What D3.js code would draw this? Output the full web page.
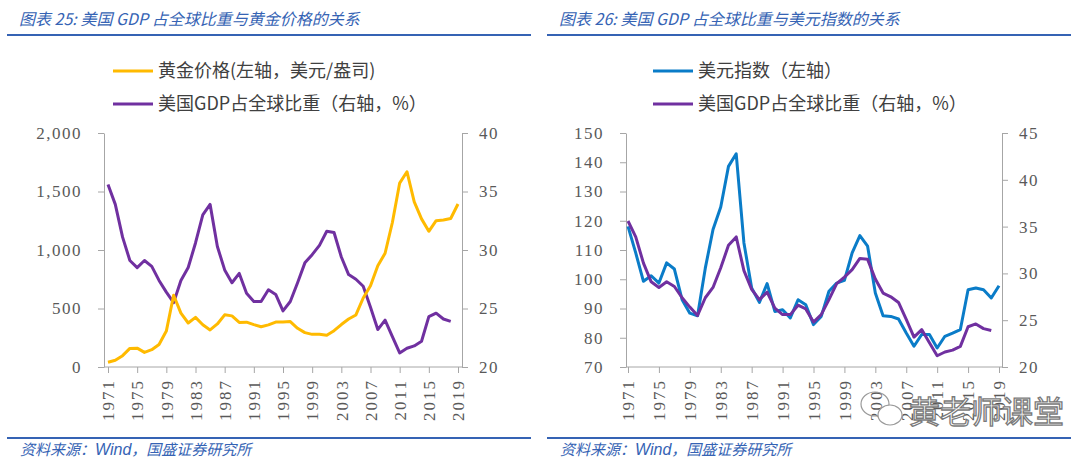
<!DOCTYPE html>
<html>
<head>
<meta charset="utf-8">
<script src="https://cdn.jsdelivr.net/npm/d3@7"></script>
<style>
  body { margin: 0; background: #fff; }
  svg { display: block; }
</style>
</head>
<body>
<svg></svg>
<script>
// categories
const years = d3.range(1971, 2020);
const labelYears = [1971, 1975, 1979, 1983, 1987, 1991, 1995, 1999, 2003, 2007, 2011, 2015, 2019];

// 黄金价格 (美元/盎司), 1971-2019
const gold = [41, 58, 97, 159, 161, 125, 148, 193, 307, 613, 460, 376, 424, 361, 317, 368, 446, 437, 381, 383,
              362, 344, 360, 384, 384, 388, 331, 294, 279, 279, 271, 310, 363, 410, 445, 590, 695, 865, 972, 1235,
              1572, 1669, 1411, 1266, 1160, 1251, 1257, 1269, 1393];

// 美国GDP占全球比重 (%), 1971-2018
const gdpShare = [35.6, 33.9, 31.1, 29.1, 28.5, 29.1, 28.6, 27.4, 26.4, 25.5, 27.4, 28.5, 30.6, 33.0, 33.9, 30.3,
                  28.3, 27.2, 28.0, 26.3, 25.6, 25.6, 26.6, 26.2, 24.8, 25.6, 27.2, 28.9, 29.6, 30.4, 31.6, 31.5,
                  29.4, 27.9, 27.5, 26.9, 25.1, 23.2, 24.0, 22.6, 21.2, 21.6, 21.8, 22.2, 24.3, 24.6, 24.1, 23.9];

// 美元指数, 1971-2019
const usdIndex = [118.1, 109.0, 99.3, 101.2, 98.7, 105.6, 103.5, 93.0, 88.4, 87.5, 103.8, 117.0, 124.7, 138.6, 142.9,
                  112.4, 97.0, 92.1, 98.5, 89.0, 89.6, 86.8, 93.0, 91.3, 84.5, 87.3, 95.9, 98.7, 99.6, 109.0,
                  114.9, 111.3, 95.3, 87.5, 87.3, 86.4, 81.6, 77.1, 81.1, 81.1, 76.5, 80.5, 81.6, 82.8, 96.4,
                  97.0, 96.4, 93.6, 97.8];

// tick labels
const goldTicks = [0, 500, 1000, 1500, 2000];
const shareTicksA = [20, 25, 30, 35, 40];
const usdTicks = [70, 80, 90, 100, 110, 120, 130, 140, 150];
const shareTicksB = [20, 25, 30, 35, 40, 45];

const width = 1080;
const height = 461;
const plotTop = 133;
const plotBottom = 367;

const blue = '#3563B4';
const axisColor = '#A6A6A6';
const tickColor = '#595959';
const serif = '"Liberation Serif", "DejaVu Serif", serif';

const svg = d3.select('svg')
    .attr('width', width)
    .attr('height', height);

const drawFrame = (x0, title) => {
    svg.append('text')
       .attr('x', x0 + 19)
       .attr('y', 25)
       .attr('fill', blue)
       .style('font-family', '"Noto Sans CJK SC", sans-serif')
       .style('font-style', 'italic')
       .style('font-size', '16px')
       .text(title);

    svg.append('line')
       .attr('x1', x0 + 7).attr('x2', x0 + 531)
       .attr('y1', 35).attr('y2', 35)
       .attr('stroke', blue)
       .attr('stroke-width', 2);

    svg.append('line')
       .attr('x1', x0 + 7).attr('x2', x0 + 531)
       .attr('y1', 438).attr('y2', 438)
       .attr('stroke', blue)
       .attr('stroke-width', 2);

    const src = svg.append('text')
       .attr('x', x0 + 20)
       .attr('y', 455)
       .attr('fill', blue)
       .style('font-family', '"Noto Sans CJK SC", sans-serif')
       .style('font-style', 'italic')
       .style('font-size', '15px');
    src.append('tspan').text('资料来源：');
    src.append('tspan').style('font-family', '"Liberation Sans", sans-serif').style('font-size', '16px').text('Wind');
    src.append('tspan').text('，国盛证券研究所');
};

const drawLegend = (x0, items) => {
    items.forEach((item, i) => {
        const y = 71 + i * 33;
        svg.append('line')
           .attr('x1', x0 + 113).attr('x2', x0 + 153)
           .attr('y1', y).attr('y2', y)
           .attr('stroke', item.color)
           .attr('stroke-width', 3);
        svg.append('text')
           .attr('x', x0 + 158)
           .attr('y', y)
           .attr('dy', '0.36em')
           .attr('fill', '#404040')
           .style('font-family', '"Noto Sans CJK SC", sans-serif')
           .style('font-size', '18px')
           .text(item.label);
    });
};

const styleTicks = (g, spacing) => {
    g.attr('font-family', serif);
    g.selectAll('.tick line').attr('stroke', axisColor);
    g.selectAll('.domain').attr('stroke', axisColor);
    g.selectAll('.tick text')
     .attr('fill', tickColor)
     .attr('font-family', serif)
     .style('font-family', serif)
     .style('font-size', '17px')
     .style('letter-spacing', spacing);
};

const drawChart = (cfg) => {
    const xScale = d3.scaleLinear()
                     .domain([1971, 2019])
                     .range([cfg.xStart, cfg.xEnd]);

    const yLeft = d3.scaleLinear()
                    .domain(cfg.leftDomain)
                    .range([plotBottom, plotTop]);

    const yRight = d3.scaleLinear()
                     .domain(cfg.rightDomain)
                     .range([plotBottom, plotTop]);

    // x axis
    svg.append('line')
       .attr('x1', cfg.axisL).attr('x2', cfg.axisR)
       .attr('y1', plotBottom).attr('y2', plotBottom)
       .attr('stroke', axisColor);

    const xAxis = d3.axisBottom(xScale)
                    .tickValues(labelYears)
                    .tickFormat(d3.format('d'))
                    .tickSize(6)
                    .tickSizeOuter(0);
    const gx = svg.append('g')
       .attr('transform', 'translate(0, ' + plotBottom + ')')
       .call(xAxis);
    gx.select('.domain').remove();
    styleTicks(gx, '2px');
    gx.selectAll('.tick text')
      .attr('y', 0)
      .attr('x', -12)
      .attr('dy', '0.34em')
      .attr('transform', 'rotate(-90)')
      .style('text-anchor', 'end');

    // left axis
    const gl = svg.append('g')
       .attr('transform', 'translate(' + cfg.axisL + ', 0)')
       .call(d3.axisLeft(yLeft)
               .tickValues(cfg.leftTicks)
               .tickFormat(d3.format(','))
               .tickSize(6)
               .tickSizeOuter(0)
               .tickPadding(16));
    styleTicks(gl, '1.5px');

    // right axis
    const gr = svg.append('g')
       .attr('transform', 'translate(' + cfg.axisR + ', 0)')
       .call(d3.axisRight(yRight)
               .tickValues(cfg.rightTicks)
               .tickSize(6)
               .tickSizeOuter(0)
               .tickPadding(11));
    styleTicks(gr, '1.5px');

    const lineLeft = d3.line()
                       .x((d, i) => xScale(years[i]))
                       .y((d) => yLeft(d));

    const lineRight = d3.line()
                        .x((d, i) => xScale(years[i]))
                        .y((d) => yRight(d));

    const order = cfg.rightFirst ? ['right', 'left'] : ['left', 'right'];
    order.forEach((side) => {
        svg.append('path')
           .datum(side === 'left' ? cfg.leftValues : cfg.rightValues)
           .attr('fill', 'none')
           .attr('stroke', side === 'left' ? cfg.leftColor : cfg.rightColor)
           .attr('stroke-width', 3)
           .attr('stroke-linejoin', 'round')
           .attr('d', side === 'left' ? lineLeft : lineRight);
    });
};

drawFrame(0, '图表 25:  美国 GDP 占全球比重与黄金价格的关系');
drawFrame(540, '图表 26:  美国 GDP 占全球比重与美元指数的关系');

drawLegend(0, [
    { color: '#FFBA00', label: '黄金价格(左轴，美元/盎司)' },
    { color: '#7030A0', label: '美国GDP占全球比重（右轴，%）' }
]);
drawLegend(540, [
    { color: '#0A7CC8', label: '美元指数（左轴）' },
    { color: '#7030A0', label: '美国GDP占全球比重（右轴，%）' }
]);

drawChart({
    axisL: 104, axisR: 462, xStart: 108, xEnd: 458,
    leftDomain: [0, 2000], rightDomain: [20, 40],
    leftTicks: goldTicks, rightTicks: shareTicksA,
    leftValues: gold, rightValues: gdpShare,
    leftColor: '#FFBA00', rightColor: '#7030A0',
    rightFirst: true
});

drawChart({
    axisL: 626, axisR: 1002, xStart: 628, xEnd: 999,
    leftDomain: [70, 150], rightDomain: [20, 45],
    leftTicks: usdTicks, rightTicks: shareTicksB,
    leftValues: usdIndex, rightValues: gdpShare,
    leftColor: '#0A7CC8', rightColor: '#7030A0',
    rightFirst: false
});

// watermark
const wm = svg.append('g').attr('fill', 'none').attr('stroke', '#9A9A9A').attr('stroke-width', 1.2);
wm.append('ellipse').attr('cx', 875).attr('cy', 404).attr('rx', 14).attr('ry', 12);
wm.append('ellipse').attr('cx', 890).attr('cy', 415).attr('rx', 12).attr('ry', 10).attr('fill', '#fff');
svg.append('text')
   .attr('x', 909)
   .attr('y', 423)
   .attr('fill', '#fff')
   .attr('stroke', '#7A7A7A')
   .attr('stroke-width', 1.3)
   .style('font-family', '"Noto Sans CJK SC", sans-serif')
   .style('font-size', '31px')
   .text('黄老师课堂');
</script>
</body>
</html>
